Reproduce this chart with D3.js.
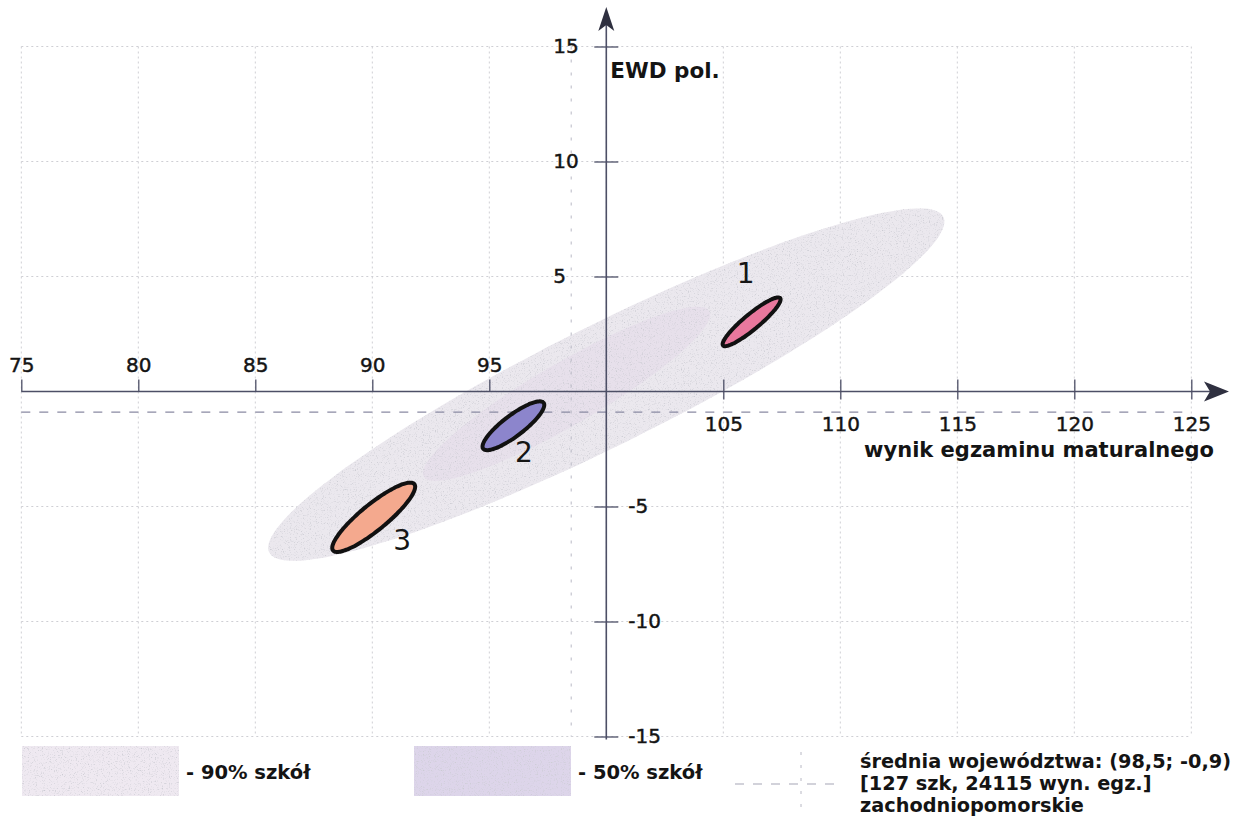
<!DOCTYPE html>
<html>
<head>
<meta charset="utf-8">
<script src="https://cdn.jsdelivr.net/npm/d3@7"></script>
<style>
  html, body { margin: 0; padding: 0; background: #ffffff; }
  svg { display: block; }
</style>
</head>
<body>
<svg id="chart" width="1239" height="819"></svg>
<script>
// ---------------- data ----------------
const xTicksLeft  = [75, 80, 85, 90, 95];
const xTicksRight = [105, 110, 115, 120, 125];
const yTicksPos   = [5, 10, 15];
const yTicksNeg   = [-5, -10, -15];
const gridX = [75, 80, 85, 90, 95, 100, 105, 110, 115, 120, 125];
const gridY = [-15, -10, -5, 0, 5, 10, 15];

const xLabel = "wynik egzaminu maturalnego";
const yLabel = "EWD pol.";

// province mean
const meanX = 98.5;
const meanY = -0.9;
const legendLines = ["średnia województwa: (98,5; -0,9)", "[127 szk, 24115 wyn. egz.]", "zachodniopomorskie"];

// school-distribution ellipses (centre, half major axis vector, half minor length) in data units
const regionNames   = ["90% szkół", "50% szkół"];
const regionCX      = [100.0, 98.3];
const regionCY      = [0.3, -0.1];
const regionMajorDX = [14.4, 6.1];
const regionMajorDY = [7.3, 3.6];
const regionMinor   = [2.6, 1.35];

// hand-marked schools
const schoolLabels  = ["1", "2", "3"];
const schoolCX      = [106.21, 96.03, 90.06];
const schoolCY      = [3.03, -1.49, -5.47];
const schoolMajorDX = [1.22, 1.29, 1.735];
const schoolMajorDY = [1.03, 1.00, 1.445];
const schoolMinor   = [0.33, 0.45, 0.56];
const schoolLabelX  = [105.96, 96.48, 91.28];
const schoolLabelY  = [5.15, -2.62, -6.46];

// ---------------- chart ----------------
const svg = d3.select("#chart");
const FONT = "DejaVu Sans, sans-serif";
const AXIS = "#4d4f66";

const x = d3.scaleLinear().domain([75, 125]).range([21.3, 1191.3]);
const y = d3.scaleLinear().domain([-15, 15]).range([736.5, 46.5]);

const defs = svg.append("defs");
const f = defs.append("filter").attr("id", "grain")
  .attr("x", "0").attr("y", "0").attr("width", "100%").attr("height", "100%");
f.append("feTurbulence").attr("type", "fractalNoise").attr("baseFrequency", "0.85")
  .attr("numOctaves", 2).attr("seed", 4).attr("result", "noise");
f.append("feColorMatrix").attr("in", "noise").attr("type", "matrix")
  .attr("values", "0 0 0 0 0.6  0 0 0 0 0.6  0 0 0 0 0.65  3.2 0 0 0 -1.75")
  .attr("result", "specks");
f.append("feComposite").attr("in", "specks").attr("in2", "SourceGraphic")
  .attr("operator", "in").attr("result", "sp");
const fm = f.append("feMerge");
fm.append("feMergeNode").attr("in", "SourceGraphic");
fm.append("feMergeNode").attr("in", "sp");

// grid
const grid = svg.append("g").attr("stroke", "#cfcfd4").attr("stroke-width", 1)
  .attr("stroke-dasharray", "2,3");
grid.selectAll("line.gx").data(gridX).join("line").attr("class", "gx")
  .attr("x1", d => x(d)).attr("x2", d => x(d)).attr("y1", y(15)).attr("y2", y(-15));
grid.selectAll("line.gy").data(gridY).join("line").attr("class", "gy")
  .attr("x1", x(75)).attr("x2", x(125)).attr("y1", d => y(d)).attr("y2", d => y(d));

// ellipse helper (data units)
function ellipsePath(cx, cy, mx, my, b) {
  const len = Math.hypot(mx, my);
  const nx = -my / len * b, ny = mx / len * b;
  const pts = d3.range(0, 96).map(i => {
    const t = i / 96 * 2 * Math.PI;
    return [x(cx + Math.cos(t) * mx + Math.sin(t) * nx),
            y(cy + Math.cos(t) * my + Math.sin(t) * ny)];
  });
  return d3.line().curve(d3.curveCardinalClosed)(pts);
}

const regionFill = ["#ebe8ee", "#e7e0eb"];
svg.append("g").selectAll("path").data(regionNames).join("path")
  .attr("d", (d, i) => ellipsePath(regionCX[i], regionCY[i], regionMajorDX[i], regionMajorDY[i], regionMinor[i]))
  .attr("fill", (d, i) => regionFill[i])
  .attr("filter", "url(#grain)");

// mean lines
svg.append("line").attr("x1", x(75)).attr("x2", x(125)).attr("y1", y(meanY)).attr("y2", y(meanY))
  .attr("stroke", "#8a8aa3").attr("stroke-width", 1.2).attr("stroke-dasharray", "9,9");
svg.append("line").attr("x1", x(meanX)).attr("x2", x(meanX)).attr("y1", y(15)).attr("y2", y(-15))
  .attr("stroke", "#b8b8c4").attr("stroke-width", 1).attr("stroke-dasharray", "3,10");

// axes
const axisG = svg.append("g");
axisG.append("line").attr("x1", x(75)).attr("x2", 1212).attr("y1", y(0)).attr("y2", y(0))
  .attr("stroke", AXIS).attr("stroke-width", 1.6);
axisG.append("path")
  .attr("d", `M1229,${y(0)} L1204,${y(0) - 10} L1210,${y(0)} L1204,${y(0) + 10} Z`)
  .attr("fill", "#2f3040");
axisG.append("line").attr("x1", x(100)).attr("x2", x(100)).attr("y1", y(-15) + 3).attr("y2", 24)
  .attr("stroke", AXIS).attr("stroke-width", 1.6);
axisG.append("path")
  .attr("d", `M${x(100)},7 L${x(100) - 8},31 L${x(100)},25 L${x(100) + 8},31 Z`)
  .attr("fill", "#2f3040");

function styleAxis(g) {
  g.select(".domain").remove();
  g.selectAll("line").attr("stroke", AXIS).attr("stroke-width", 1.3);
  g.selectAll("text").attr("font-family", FONT).attr("font-size", 20).attr("fill", "#141414")
    .attr("stroke", "#141414").attr("stroke-width", 0.45);
}

svg.append("g").attr("transform", `translate(0,${y(0)})`)
  .call(d3.axisTop(x).tickValues(xTicksLeft.concat(xTicksRight)).tickSize(12).tickPadding(8)
    .tickFormat(d => xTicksLeft.includes(d) ? String(d) : ""))
  .call(styleAxis);
svg.append("g").attr("transform", `translate(0,${y(0)})`)
  .call(d3.axisBottom(x).tickValues(xTicksRight).tickSize(8).tickPadding(17).tickFormat(d => String(d)))
  .call(styleAxis);

svg.append("g").attr("transform", `translate(${x(100)},0)`)
  .call(d3.axisLeft(y).tickValues(yTicksPos.concat(yTicksNeg)).tickSize(12)
    .tickFormat(d => d > 0 ? String(d) : ""))
  .call(styleAxis)
  .call(g => g.selectAll("text").attr("text-anchor", "start").attr("x", -53));
svg.append("g").attr("transform", `translate(${x(100)},0)`)
  .call(d3.axisRight(y).tickValues(yTicksPos.concat(yTicksNeg)).tickSize(12)
    .tickFormat(d => d < 0 ? String(d) : ""))
  .call(styleAxis)
  .call(g => g.selectAll("text").attr("text-anchor", "start").attr("x", 22));

// axis titles
svg.append("text").attr("x", x(100) + 4).attr("y", 78)
  .attr("font-family", FONT).attr("font-weight", "bold").attr("font-size", 21.5)
  .attr("fill", "#141414").text(yLabel);
svg.append("text").attr("x", 1214).attr("y", 457).attr("text-anchor", "end")
  .attr("font-family", FONT).attr("font-weight", "bold").attr("font-size", 21)
  .attr("fill", "#141414").text(xLabel);

// hand-marked schools
const schoolFill = ["#e9789d", "#8c85cc", "#f4a98e"];
svg.append("g").selectAll("path").data(schoolLabels).join("path")
  .attr("d", (d, i) => ellipsePath(schoolCX[i], schoolCY[i], schoolMajorDX[i], schoolMajorDY[i], schoolMinor[i]))
  .attr("fill", (d, i) => schoolFill[i])
  .attr("stroke", "#111").attr("stroke-width", 4).attr("stroke-linejoin", "round");
svg.append("g").selectAll("text").data(schoolLabels).join("text")
  .attr("x", (d, i) => x(schoolLabelX[i])).attr("y", (d, i) => y(schoolLabelY[i]))
  .attr("dy", "0.36em").attr("text-anchor", "middle")
  .attr("font-family", FONT).attr("font-size", 28).attr("fill", "#151515")
  .text(d => d);

// legend
const legendBoxX = [22, 414];
const legendFill = ["#efe9f1", "#ddd5ea"];
const lg = svg.append("g");
lg.selectAll("rect").data(regionNames).join("rect")
  .attr("x", (d, i) => legendBoxX[i]).attr("y", 746).attr("width", 157).attr("height", 50)
  .attr("fill", (d, i) => legendFill[i]).attr("filter", "url(#grain)");
lg.selectAll("text").data(regionNames).join("text")
  .attr("x", (d, i) => legendBoxX[i] + 164).attr("y", 779)
  .attr("font-family", FONT).attr("font-weight", "bold").attr("font-size", 19.5)
  .attr("fill", "#141414").text(d => "- " + d);

lg.append("line").attr("x1", 735).attr("x2", 842).attr("y1", 784).attr("y2", 784)
  .attr("stroke", "#a5a5b5").attr("stroke-width", 1.2).attr("stroke-dasharray", "9,9");
lg.append("line").attr("x1", 801).attr("x2", 801).attr("y1", 752).attr("y2", 816)
  .attr("stroke", "#b8b8c4").attr("stroke-width", 1).attr("stroke-dasharray", "3,10");
lg.selectAll("text.mean").data(legendLines).join("text").attr("class", "mean")
  .attr("x", 860).attr("y", (d, i) => 768 + i * 22)
  .attr("font-family", FONT).attr("font-weight", "bold").attr("font-size", 19.3)
  .attr("fill", "#141414").text(d => d);
</script>
</body>
</html>
